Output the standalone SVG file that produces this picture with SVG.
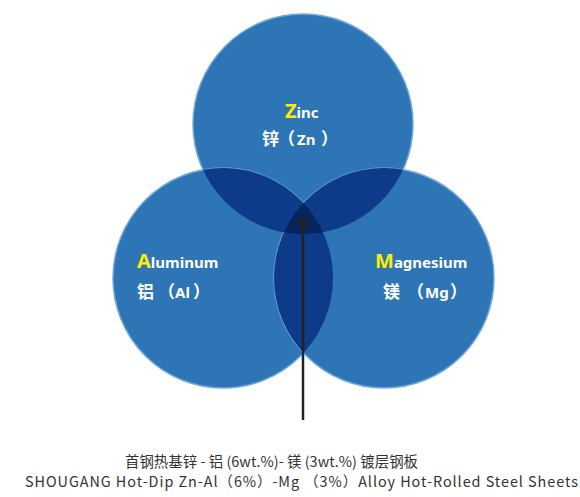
<svg xmlns="http://www.w3.org/2000/svg" width="580" height="497" viewBox="0 0 580 497">
<style>
.c{fill:#2E75B6;stroke:#6FA8DC;stroke-width:1.5}
.d{fill:#0E3A8A}
.t{fill:#06245E}
.en{font-family:"Noto Sans","Noto Sans CJK SC",sans-serif;font-weight:bold;fill:#fff;font-size:15px}
.cap{font-family:"Noto Sans","Noto Sans CJK SC",sans-serif;font-weight:bold;fill:#FFEB00;font-size:20px}
.zh{font-family:"Noto Sans CJK SC",sans-serif;font-weight:bold;fill:#fff;font-size:17px}
.bt{font-family:"Noto Sans CJK SC",sans-serif;fill:#333;font-size:14.4px}
</style>
<defs>
<clipPath id="cz"><circle cx="303" cy="124" r="110"/></clipPath>
<clipPath id="cl"><circle cx="223" cy="278" r="110"/></clipPath>
</defs>
<g id="zinc"><circle class="c" cx="303" cy="124" r="110"/></g>
<g id="aluminum"><circle class="c" cx="223" cy="278" r="110"/></g>
<g id="magnesium"><circle class="c" cx="384" cy="278" r="110"/></g>
<g id="overlaps">
<circle class="d" cx="223" cy="278" r="110" clip-path="url(#cz)"/>
<circle class="d" cx="384" cy="278" r="110" clip-path="url(#cz)"/>
<circle class="d" cx="384" cy="278" r="110" clip-path="url(#cl)"/>
<path class="t" d="M303.5,203 A110,110 0 0 1 323,232.2 A110,110 0 0 1 283.9,232.3 A110,110 0 0 1 303.5,203 Z"/>
</g>
<g id="labels">
<text x="285" y="118"><tspan class="cap">Z</tspan><tspan class="en">inc</tspan></text>
<text class="zh" y="145"><tspan x="262">锌</tspan><tspan x="278">（</tspan><tspan class="en" x="297">Zn</tspan><tspan x="321">）</tspan></text>
<text x="137" y="268"><tspan class="cap">A</tspan><tspan class="en">luminum</tspan></text>
<text class="zh" y="298"><tspan x="137">铝</tspan><tspan x="158">（</tspan><tspan class="en" x="175">Al</tspan><tspan x="193">）</tspan></text>
<text x="375" y="268"><tspan class="cap">M</tspan><tspan class="en">agnesium</tspan></text>
<text class="zh" y="298"><tspan x="383">镁</tspan><tspan x="407">（</tspan><tspan class="en" x="425">Mg</tspan><tspan x="450">）</tspan></text>
</g>
<g id="connectors">
<line x1="303" y1="223" x2="303" y2="420" stroke="#222" stroke-width="2.5"/>
<circle cx="303" cy="223" r="5" fill="#222"/>
</g>
<g id="caption">
<text class="bt" x="125" y="467" textLength="293" lengthAdjust="spacing">首钢热基锌 - 铝 (6wt.%)- 镁 (3wt.%) 镀层钢板</text>
<text class="bt" x="25" y="487" textLength="553" lengthAdjust="spacing">SHOUGANG  Hot-Dip Zn-Al（6%）-Mg （3%）Alloy Hot-Rolled Steel Sheets</text>
</g>
</svg>
